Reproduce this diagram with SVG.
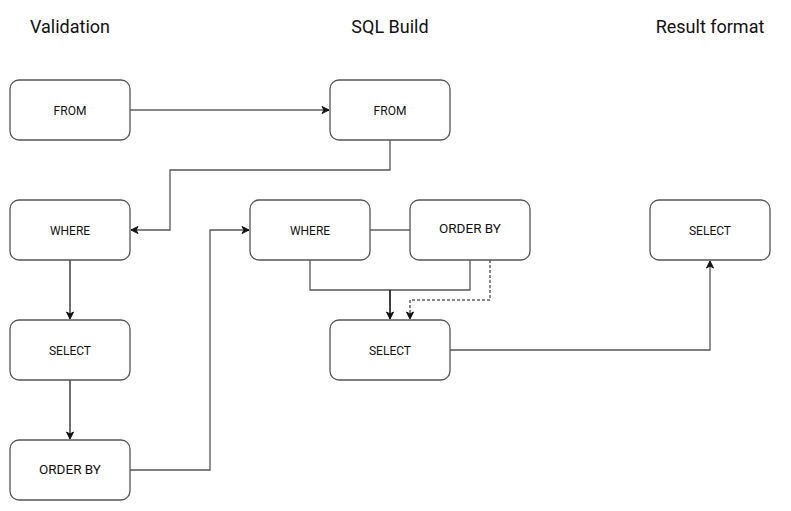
<svg xmlns="http://www.w3.org/2000/svg" width="791" height="511" viewBox="0 0 791 511">
<defs>
<style>
.box{fill:#fff;stroke:#555;stroke-width:1.3}
.lbl{font-family:Roboto,"Liberation Sans",sans-serif;font-size:12px;fill:#111;text-anchor:middle;dominant-baseline:central}
.big{font-size:13.5px}
.ttl{font-family:Roboto,"Liberation Sans",sans-serif;font-size:18px;fill:#111;text-anchor:middle;dominant-baseline:central}
.c{fill:none;stroke:#111;stroke-width:1.2}
.g{fill:none;stroke:#555;stroke-width:1.3}
.d{fill:none;stroke:#111;stroke-width:1;stroke-dasharray:3 2}
</style>
<marker id="a" markerWidth="10" markerHeight="10" refX="8" refY="5" orient="auto" markerUnits="userSpaceOnUse">
<path d="M1,1.5 L8,5 L1,8.5 L3,5 Z" fill="#111" stroke="#111" stroke-width="1"/>
</marker>
</defs>
<rect width="791" height="511" fill="#fff"/>
<g id="titles">
<text class="ttl" x="70" y="26">Validation</text>
<text class="ttl" x="390" y="26">SQL Build</text>
<text class="ttl" x="710" y="26">Result format</text>
</g>
<g id="connectors">
<path class="c" d="M130,110 H329" marker-end="url(#a)"/>
<path class="g" d="M390,140 V170 H170 V230 H131" marker-end="url(#a)"/>
<path class="c" d="M70,260 V319" marker-end="url(#a)"/>
<path class="c" d="M70,380 V439" marker-end="url(#a)"/>
<path class="g" d="M130,470 H210 V230 H249" marker-end="url(#a)"/>
<path class="c" d="M370,230 H410"/>
<path class="g" d="M310,260 V290 H470 V260"/>
<path class="c" style="stroke-width:1.6" d="M390,290 V319" marker-end="url(#a)"/>
<path class="d" d="M490,260 V300 H410 V319" marker-end="url(#a)"/>
<path class="g" d="M450,350 H710 V261" marker-end="url(#a)"/>
</g>
<g id="v-from"><rect class="box" x="10" y="80" width="120" height="60" rx="9"/><text class="lbl" x="70" y="111">FROM</text></g>
<g id="v-where"><rect class="box" x="10" y="200" width="120" height="60" rx="9"/><text class="lbl" x="70" y="231">WHERE</text></g>
<g id="v-select"><rect class="box" x="10" y="320" width="120" height="60" rx="9"/><text class="lbl" x="70" y="351">SELECT</text></g>
<g id="v-orderby"><rect class="box" x="10" y="440" width="120" height="60" rx="9"/><text class="lbl big" x="70" y="469">ORDER BY</text></g>
<g id="s-from"><rect class="box" x="330" y="80" width="120" height="60" rx="9"/><text class="lbl" x="390" y="111">FROM</text></g>
<g id="s-where"><rect class="box" x="250" y="200" width="120" height="60" rx="9"/><text class="lbl" x="310" y="231">WHERE</text></g>
<g id="s-orderby"><rect class="box" x="410" y="200" width="120" height="60" rx="9"/><text class="lbl big" x="470" y="228">ORDER BY</text></g>
<g id="s-select"><rect class="box" x="330" y="320" width="120" height="60" rx="9"/><text class="lbl" x="390" y="351">SELECT</text></g>
<g id="r-select"><rect class="box" x="650" y="200" width="120" height="60" rx="9"/><text class="lbl" x="710" y="231">SELECT</text></g>
</svg>
